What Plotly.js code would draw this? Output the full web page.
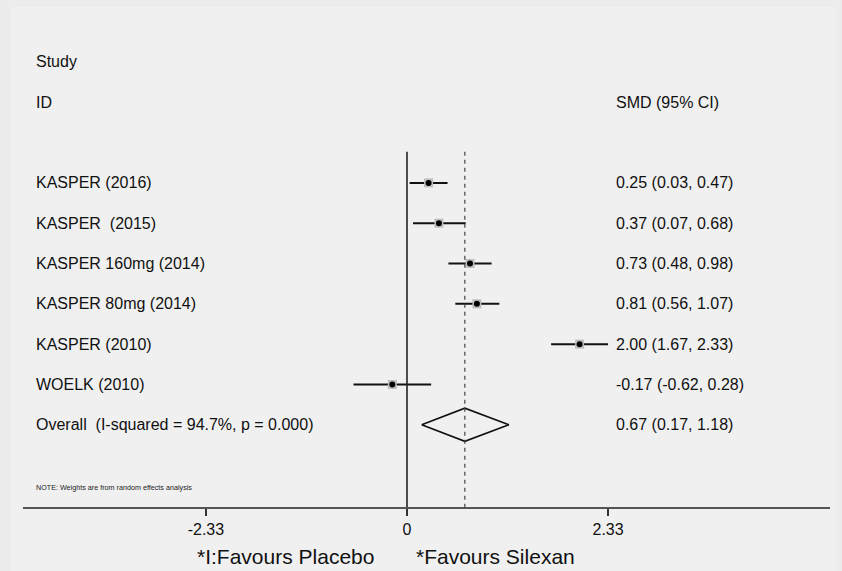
<!DOCTYPE html>
<html>
<head>
<meta charset="utf-8">
<script src="https://cdn.plot.ly/plotly-3.0.1.min.js"></script>
<style>html,body{margin:0;padding:0;background:#ececec;}#chart{width:842px;height:571px;}</style>
</head>
<body>
<div id="chart"></div>
<script>
// ---- data ----
const studies = ["KASPER (2016)", "KASPER\u00a0 (2015)", "KASPER 160mg (2014)", "KASPER 80mg (2014)", "KASPER (2010)", "WOELK (2010)"];
const smd = [0.25, 0.37, 0.73, 0.81, 2.00, -0.17];
const lower = [0.03, 0.07, 0.48, 0.56, 1.67, -0.62];
const upper = [0.47, 0.68, 0.98, 1.07, 2.33, 0.28];
const overallLabel = "Overall\u00a0 (I-squared = 94.7%, p = 0.000)";
const overallSmd = [0.67];
const overallLower = [0.17];
const overallUpper = [1.18];
const tickVals = [-2.33, 0, 2.33];
const tickText = ["-2.33", "0", "2.33"];

const rows = studies.map((_, i) => i);
const overallRow = studies.length;
const fmt = v => v.toFixed(2);
const ciText = smd.map((v, i) => `${fmt(v)} (${fmt(lower[i])}, ${fmt(upper[i])})`);
const overallCi = `${fmt(overallSmd[0])} (${fmt(overallLower[0])}, ${fmt(overallUpper[0])})`;

const FONT = "Liberation Sans, Arial, Helvetica, sans-serif";
const fs = 16;
const PLOT_W = 807;
const leftX = (34 - 23) / PLOT_W;
const rightX = (614 - 407) / 86.3;

const traces = [
  {
    x: smd, y: rows, type: "scatter", mode: "markers",
    marker: {symbol: "square", size: 9, color: "#bdbdbd"},
    error_x: {type: "data", symmetric: false,
      array: upper.map((u, i) => u - smd[i]),
      arrayminus: smd.map((v, i) => v - lower[i]),
      width: 0, thickness: 2, color: "#111"},
    hoverinfo: "skip", showlegend: false
  },
  {
    x: smd, y: rows, type: "scatter", mode: "markers",
    marker: {symbol: "circle", size: 6, color: "#000"},
    hoverinfo: "skip", showlegend: false
  },
  {
    x: [overallLower[0], overallSmd[0], overallUpper[0], overallSmd[0], overallLower[0]],
    y: [overallRow, overallRow - 0.41, overallRow, overallRow + 0.41, overallRow],
    type: "scatter", mode: "lines",
    line: {color: "#111", width: 1.6},
    hoverinfo: "skip", showlegend: false
  }
];

const annotations = [];
function addText(x, xref, y, text) {
  annotations.push({x: x, xref: xref, y: y, yref: "y", text: text, showarrow: false,
    xanchor: "left", yanchor: "middle", font: {family: FONT, size: fs, color: "#111"}});
}
addText(leftX, "paper", -3, "Study");
addText(leftX, "paper", -2, "ID");
addText(rightX, "x", -2, "SMD (95% CI)");
studies.forEach((s, i) => { addText(leftX, "paper", i, s); addText(rightX, "x", i, ciText[i]); });
addText(leftX, "paper", overallRow, overallLabel);
addText(rightX, "x", overallRow, overallCi);
annotations.push({x: leftX, xref: "paper", y: 7.55, yref: "y", text: "NOTE: Weights are from random effects analysis",
  showarrow: false, xanchor: "left", yanchor: "middle", font: {family: FONT, size: 7.2, color: "#222"}});
annotations.push({x: (285 - 23) / PLOT_W, xref: "paper", y: -49 / 489, yref: "paper", text: "*I:Favours Placebo", showarrow: false,
  xanchor: "center", yanchor: "middle", font: {family: FONT, size: 21, color: "#111"}});
annotations.push({x: (496 - 23) / PLOT_W, xref: "paper", y: -49 / 489, yref: "paper", text: "*Favours Silexan", showarrow: false,
  xanchor: "center", yanchor: "middle", font: {family: FONT, size: 21, color: "#111"}});

const layout = {
  width: 842, height: 571,
  margin: {l: 23, r: 12, t: 18, b: 64},
  paper_bgcolor: "#ececec",
  plot_bgcolor: "#ffffff",
  font: {family: FONT, size: fs, color: "#111"},
  xaxis: {
    range: [(23 - 407) / 86.3, (830 - 407) / 86.3],
    tickvals: tickVals, ticktext: tickText,
    ticks: "outside", ticklen: 7, tickwidth: 1.5, tickcolor: "#333",
    tickfont: {family: FONT, size: 16, color: "#111"},
    showline: true, linecolor: "#555", linewidth: 2,
    showgrid: false, zeroline: false, fixedrange: true
  },
  yaxis: {
    range: [8.04, -4.09],
    visible: false, showgrid: false, zeroline: false, fixedrange: true
  },
  shapes: [
    {type: "rect", xref: "paper", yref: "paper", layer: "below",
      x0: -12 / PLOT_W, x1: 1 + 6 / PLOT_W, y0: -64 / 489, y1: 1 + 11 / 489,
      fillcolor: "#f0f0f0", line: {width: 0}},
    {type: "line", xref: "x", yref: "y", x0: 0, x1: 0, y0: -0.77, y1: 8.04,
      line: {color: "#222", width: 1.6}},
    {type: "line", xref: "x", yref: "y", x0: overallSmd[0], x1: overallSmd[0], y0: -0.77, y1: 8.04,
      line: {color: "#444", width: 1.2, dash: "4px,4px"}}
  ],
  annotations: annotations
};

Plotly.newPlot("chart", traces, layout, {displayModeBar: false, staticPlot: true});
</script>
</body>
</html>
